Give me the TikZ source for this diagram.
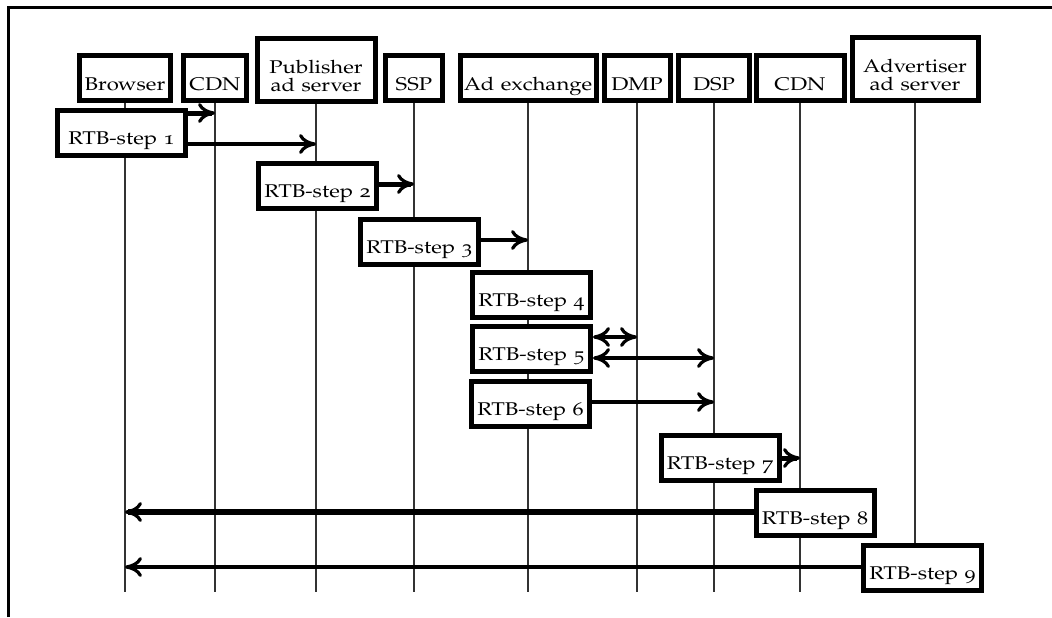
\documentclass[tikz,border=0pt]{standalone}
\usepackage[T1]{fontenc}
\usepackage[osf]{mathpazo}
\usetikzlibrary{positioning}
\usetikzlibrary{arrows.meta}

\newcommand{\wide}[1]{\scalebox{1.2}[1]{#1}}

\tikzset{
  actor/.style={draw, line width=2.5pt, fill=white, inner sep=1pt,
    minimum height=22.5pt, text height=12.7pt, text depth=0pt,
    font=\fontsize{9.2}{9}\selectfont},
  actortwo/.style={actor, minimum height=31.5pt, align=center, text height=21pt},
  rtbstep/.style={draw, line width=2.5pt, fill=white, inner sep=1pt,
    minimum width=59pt, minimum height=22.5pt, text height=11.5pt, text depth=0pt,
    font=\fontsize{9.2}{9}\selectfont},
  life/.style={line width=0.9pt, black!80},
  tip/.tip={To[length=8.5pt,width=10pt,line width=1.6pt]},
  msg/.style={-tip, line width=2pt},
  msgs/.style={tip-tip, line width=2pt},
}

\begin{document}
\begin{tikzpicture}[x=0.5pt, y=-0.5pt]
    \useasboundingbox (0,0) rectangle (1052,617);
    \draw[line width=1.5pt] (8,617) -- (8,7) -- (1052,7);

    % parties
    \node[actor, minimum width=45.5pt] (browser) at (125,78) {\wide{Browser}};
    \node[actor, minimum width=31.5pt] (cdnA)    at (215,78) {\wide{CDN}};
    \node[actortwo, minimum width=59pt] (pub)    at (316,70) {\wide{Publisher}\\\wide{ad server}};
    \node[actor, minimum width=28.5pt] (ssp)     at (414,78) {\wide{SSP}};
    \node[actor, minimum width=68pt]   (adx)     at (528,78) {\wide{Ad exchange}};
    \node[actor, minimum width=33pt]   (dmp)     at (637,78) {\wide{DMP}};
    \node[actor, minimum width=35.5pt] (dsp)     at (714,78) {\wide{DSP}};
    \node[actor, minimum width=44pt]   (cdnB)    at (800,78) {\wide{CDN}};
    \node[actortwo, minimum width=63pt] (adv)    at (915,69) {\wide{Advertiser}\\\wide{ad server}};

    \foreach \p in {browser,cdnA,pub,ssp,adx,dmp,dsp,cdnB,adv}
        \draw[life] (\p.south) -- (\p.south |- 0,592);

    % steps
    \node[rtbstep, minimum width=64pt] (s1) at (121.5,133) {\wide{RTB-step 1}};
    \node[rtbstep] (s2) at (317.5,185.5) {\wide{RTB-step 2}};
    \node[rtbstep] (s3) at (419.5,241.5) {\wide{RTB-step 3}};
    \node[rtbstep] (s4) at (531.5,295)   {\wide{RTB-step 4}};
    \node[rtbstep] (s5) at (531.5,349)   {\wide{RTB-step 5}};
    \node[rtbstep] (s6) at (530.5,404)   {\wide{RTB-step 6}};
    \node[rtbstep] (s7) at (720,458)     {\wide{RTB-step 7}};
    \node[rtbstep] (s8) at (815,513)     {\wide{RTB-step 8}};
    \node[rtbstep] (s9) at (922.5,568)   {\wide{RTB-step 9}};

    \draw[msg, line width=2.5pt] (s1.east |- 0,113) -- (cdnA |- 0,113);
    \draw[msg]                   (s1.east |- 0,144) -- (pub |- 0,144);
    \draw[msg, line width=2.5pt] (s2.east |- 0,184) -- (ssp |- 0,184);
    \draw[msg]                   (s3.east |- 0,240) -- (adx |- 0,240);
    \draw[msgs]                  (s5.east |- 0,337) -- (dmp |- 0,337);
    \draw[msgs]                  (s5.east |- 0,358) -- (dsp |- 0,358);
    \draw[msg]                   (s6.east |- 0,402) -- (dsp |- 0,402);
    \draw[msg, line width=2.5pt] (s7.east |- 0,458) -- (cdnB |- 0,458);
    \draw[msg, line width=3pt]   (s8.west |- 0,512) -- (browser |- 0,512);
    \draw[msg, line width=1.8pt] (s9.west |- 0,567) -- (browser |- 0,567);
\end{tikzpicture}
\end{document}
